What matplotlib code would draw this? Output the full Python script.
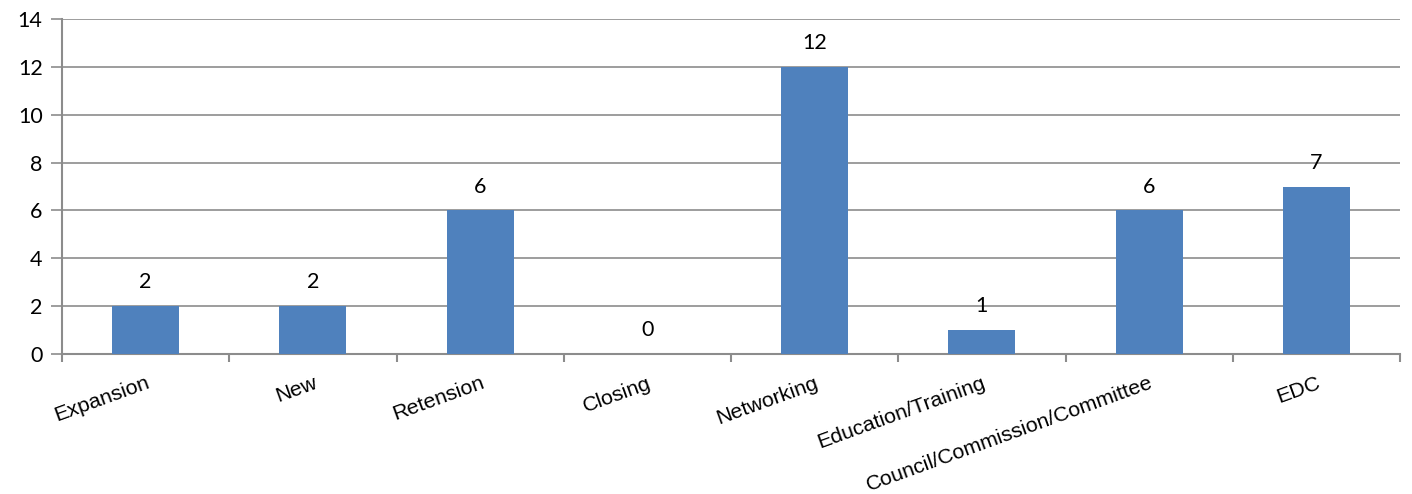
import matplotlib
matplotlib.use("Agg")
import matplotlib.pyplot as plt
import numpy as np

categories = ["Expansion", "New", "Retension", "Closing", "Networking",
              "Education/Training", "Council/Commission/Committee", "EDC"]
values = [2, 2, 6, 0, 12, 1, 6, 7]
yticks = [0, 2, 4, 6, 8, 10, 12, 14]

fig = plt.figure(figsize=(14.12, 4.94), dpi=100)
ax = fig.add_axes([62/1412, 1 - 354/494, (1400-62)/1412, (354-19)/494])

x = np.arange(len(categories))
ax.bar(x, values, width=0.4, color="#4F81BD", zorder=3)
ax.set_xlim(-0.5, len(categories) - 0.5)
ax.set_ylim(0, 14)
ax.set_yticks(yticks)
ax.yaxis.grid(True, color="#8C8C8C", linewidth=1.2, zorder=0)
for s in ["top", "right"]:
    ax.spines[s].set_visible(False)
for s in ["left", "bottom"]:
    ax.spines[s].set_color("#8C8C8C")
    ax.spines[s].set_linewidth(1.5)
ax.tick_params(axis="y", direction="out", length=8, color="#8C8C8C", width=1.2,
               labelsize=15.5, pad=6)
for lab in ax.get_yticklabels():
    lab.set_fontfamily("Lato")

# category boundary ticks
ax.set_xticks(np.arange(0, len(categories) + 1) - 0.5, minor=False)
ax.set_xticklabels([])
ax.tick_params(axis="x", direction="out", length=6, color="#8C8C8C", width=1.5)

for xi, c in zip(x, categories):
    ax.annotate(c, xy=(xi, 0), xycoords=("data", "axes fraction"),
                xytext=(0, -14), textcoords="offset points",
                rotation=20, ha="right", va="top", rotation_mode="anchor",
                fontsize=15.4, fontfamily="Liberation Sans")

for xi, v in zip(x, values):
    ax.annotate(str(v), xy=(xi, v), xytext=(0, 10), textcoords="offset points",
                ha="center", va="bottom", fontsize=15.5, fontfamily="Lato")

fig.savefig("out.png", dpi=100)
